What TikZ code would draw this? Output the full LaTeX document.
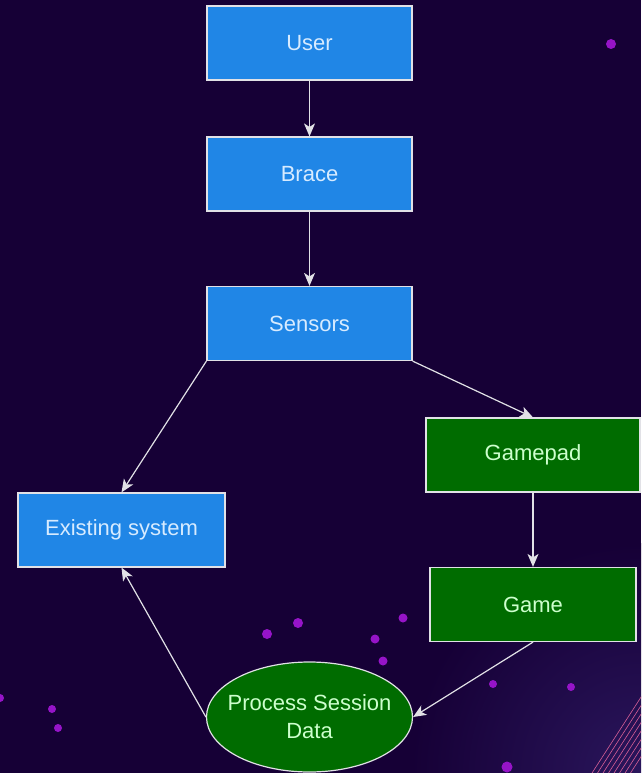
\documentclass[tikz,border=0pt]{standalone}
\usepackage{fontspec}
\setmainfont{Liberation Sans}
\usetikzlibrary{shapes.geometric,arrows.meta}
\definecolor{bgnavy}{RGB}{22,0,54}
\definecolor{bglight}{RGB}{42,22,92}
\definecolor{boxblue}{RGB}{32,134,230}
\definecolor{boxgreen}{RGB}{0,108,0}
\definecolor{txtblue}{RGB}{215,235,255}
\definecolor{txtgreen}{RGB}{205,255,205}
\definecolor{edgegray}{RGB}{225,225,230}
\definecolor{dotpurple}{RGB}{150,20,200}
\definecolor{stripe}{RGB}{215,95,150}
\begin{document}
\begin{tikzpicture}[x=1pt,y=-1pt,
  bluebox/.style={draw=edgegray,line width=1.2pt,fill=boxblue,text=txtblue,
    minimum width=205pt,minimum height=74pt,font=\fontsize{22}{26}\selectfont},
  greenbox/.style={draw=edgegray,line width=1.2pt,fill=boxgreen,text=txtgreen,
    minimum width=206pt,minimum height=74pt,font=\fontsize{22}{26}\selectfont},
  procell/.style={ellipse,draw=edgegray,line width=1.2pt,fill=boxgreen,
    minimum width=206pt,minimum height=110pt,inner sep=0pt},
  conn/.style={draw=edgegray,line width=1.2pt,-{Stealth[length=13pt,width=11pt,inset=3.5pt]}},
  dot/.style={fill=dotpurple}]
\useasboundingbox[fill=bgnavy] (0,0) rectangle (641,773);
% background dots and stripes
\begin{scope}
\clip (0,0) rectangle (641,773);
\shade[inner color=bglight,outer color=bgnavy] (641,773) circle (230);
\foreach \i in {0,...,7}
  \draw[stripe,line width=0.6pt] (592+5.5*\i,773) -- ++(62,-96);
\end{scope}
\foreach \dx/\dy/\r in {611/44/5,267/634/5,298/623/5,375/639/4.5,403/618/4.5,383/661/4.5,
  493/684/4,571/687/4,52/709/4,58/728/4,507/767/5.5,0/698/4}
  \fill[dot] (\dx,\dy) circle (\r);
% nodes
\node[bluebox] (user) at (309.5,43) {User};
\node[bluebox] (brace) at (309.5,174) {Brace};
\node[bluebox] (sensors) at (309.5,323.5) {Sensors};
\node[bluebox,minimum width=207pt] (exist) at (121.5,530) {Existing system};
\node[greenbox,minimum width=214pt] (gamepad) at (533,455) {Gamepad};
\node[greenbox] (game) at (533,604.5) {Game};
\node[procell,label={[text=txtgreen,font=\fontsize{22}{28}\selectfont,align=center]center:Process Session\\Data}]
  (proc) at (309.5,717) {};
% connectors
\draw[conn] (user) -- (brace);
\draw[conn] (brace) -- (sensors);
\draw[conn] (sensors.south west) -- (exist.north);
\draw[conn] (sensors.south east) -- (gamepad.north);
\draw[conn] (gamepad) -- (game);
\draw[conn] (game.south) -- (proc.east);
\draw[conn] (proc.west) -- (exist.south);
\end{tikzpicture}
\end{document}
